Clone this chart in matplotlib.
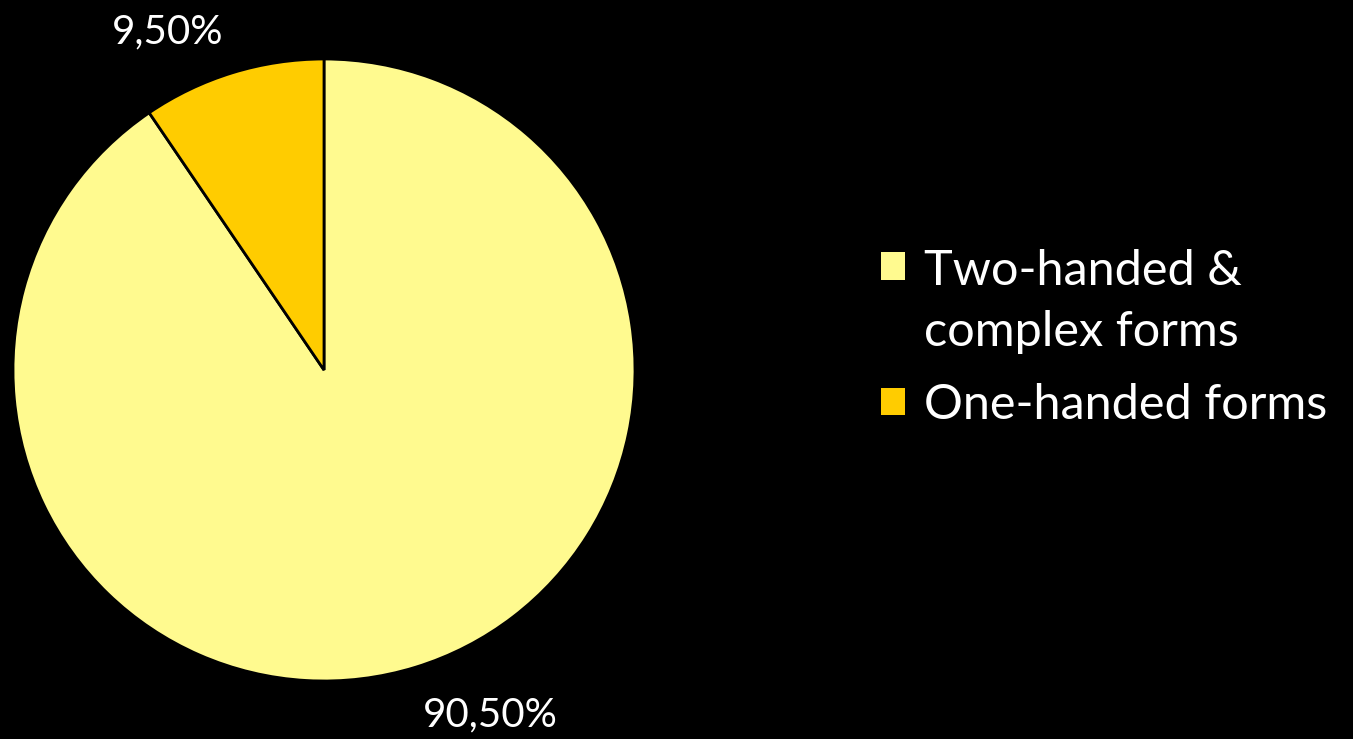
import matplotlib
matplotlib.use("Agg")
import matplotlib.pyplot as plt
from matplotlib.patches import Patch
import numpy as np

categories = ["Two-handed &\ncomplex forms", "One-handed forms"]
values = [90.5, 9.5]
value_labels = ["90,50%", "9,50%"]
colors = ["#FFFA8F", "#FFCC00"]

W, H = 1353, 739
fig = plt.figure(figsize=(W / 100, H / 100), dpi=100, facecolor="black")
cx, cy, r = 324, 370, 311
ax = fig.add_axes([(cx - r) / W, (H - cy - r) / H, 2 * r / W, 2 * r / H])
ax.set_facecolor("black")
wedges, _ = ax.pie(values, colors=colors, startangle=90, counterclock=False,
                   radius=1.0, wedgeprops=dict(edgecolor="black", linewidth=2))
ax.set_xlim(-1, 1)
ax.set_ylim(-1, 1)
ax.set_aspect("equal")
ax.axis("off")

font = "Lato"
# data labels, positioned from wedge mid-angles
offsets = [(0.24, -0.155), (-0.21, 0.13)]
for w, lab, (dx, dy) in zip(wedges, value_labels, offsets):
    th = np.deg2rad((w.theta1 + w.theta2) / 2)
    x, y = 1.0 * np.cos(th) + dx, 1.0 * np.sin(th) + dy
    ax.text(x, y, lab, color="white", fontsize=29, family=font,
            ha="center", va="center", clip_on=False)

handles = [Patch(facecolor=c, edgecolor="none") for c in colors]
leg = fig.legend(handles, categories, loc="center left",
                 bbox_to_anchor=(837 / W, 1 - 338 / H), frameon=False,
                 prop={"family": font, "size": 35}, labelcolor="white",
                 handlelength=0.5, handleheight=0.5, handletextpad=0.4,
                 labelspacing=0.6)
for t in leg.get_texts():
    t.set_linespacing(1.45)
# align the two-line entry's marker with its first line
h0 = leg.legend_handles[0]
h0.set_y(h0.get_y() + 26)

fig.savefig("out.png", dpi=100, facecolor="black")
